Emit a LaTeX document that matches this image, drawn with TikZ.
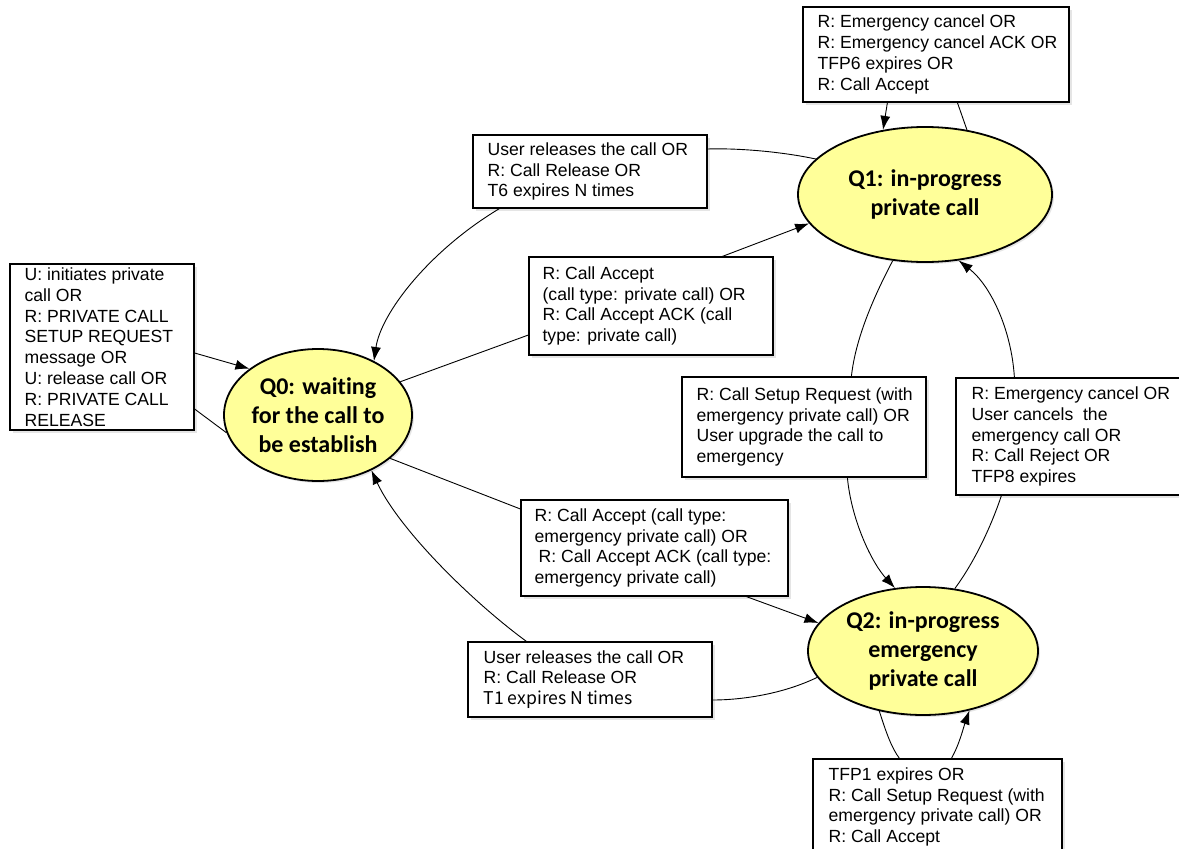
\documentclass[tikz,border=0pt]{standalone}
\usepackage{fontspec}
\setmainfont{Liberation Sans}
\newfontfamily\calib[Ligatures=NoCommon]{Carlito}
\newfontfamily\krfont{Noto Sans CJK KR}
\usetikzlibrary{shapes.geometric,arrows.meta,shadows}
\definecolor{stateyellow}{RGB}{255,255,153}
\tikzset{
  state/.style={ellipse, draw, line width=1.8pt, fill=stateyellow, inner sep=0pt, align=center,
    font=\calib\bfseries\fontsize{24}{29}\selectfont,
    drop shadow={shadow xshift=2pt, shadow yshift=-2pt, fill=black!20}},
  lbox/.style={draw, line width=1.2pt, fill=white, inner sep=0pt,
    drop shadow={shadow xshift=2.5pt, shadow yshift=-2.5pt, fill=black!20}},
  ltext/.style={anchor=west, inner sep=0pt, align=left, font=\fontsize{17.6}{20.8}\selectfont},
  conn/.style={line width=0.9pt},
  arr/.style={conn, -{Latex[length=14pt,width=10pt]}},
}
\begin{document}
\begin{tikzpicture}[x=1pt,y=-1pt]
\useasboundingbox (0,0) rectangle (1179,849);
\clip (0,0) rectangle (1179,849);
\fill[white] (0,0) rectangle (1179,849);

% states
\node[state, minimum width=188pt, minimum height=132pt] (q0) at (318,415) {Q0: waiting\\for the call to\\be establish};
\node[state, minimum width=254pt, minimum height=135pt] (q1) at (925,194.5) {Q1: in-progress\\private call};
\node[state, minimum width=230pt, minimum height=128pt] (q2) at (923,651) {Q2: in-progress\\emergency\\private call};

% label boxes
\node[lbox, minimum width=266pt, minimum height=95pt] (b1) at (936,54.5) {};
\node[lbox, minimum width=234pt, minimum height=73pt] (b2) at (590,171.5) {};
\node[lbox, minimum width=184pt, minimum height=166pt] (b3) at (102,347) {};
\node[lbox, minimum width=244pt, minimum height=98pt] (b4) at (651,306) {};
\node[lbox, minimum width=244pt, minimum height=100pt] (b5) at (804,427) {};
\node[lbox, minimum width=234pt, minimum height=117pt] (b6) at (1073,436.5) {};
\node[lbox, minimum width=267pt, minimum height=96pt] (b7) at (654.5,548) {};
\node[lbox, minimum width=244pt, minimum height=75pt] (b8) at (590,679.5) {};
\node[lbox, minimum width=249pt, minimum height=96pt] (b9) at (937.5,807) {};

\node[ltext] (t1) at ([xshift=15pt]b1.west) {R: Emergency cancel OR\\R: Emergency cancel ACK OR\\TFP6 expires OR\\R: Call Accept};
\node[ltext] (t2) at ([xshift=15pt]b2.west) {User releases the call OR\\R: Call Release OR\\T6 expires N times};
\node[ltext] (t3) at ([xshift=15pt]b3.west) {U: initiates private\\call OR\\R: PRIVATE CALL\\SETUP REQUEST\\message OR\\U: release call OR\\R: PRIVATE CALL\\RELEASE};
\node[ltext] (t4) at ([xshift=14pt]b4.west) {R: Call Accept\\(call type: private call) OR\\R: Call Accept ACK (call\\type: private call)};
\node[ltext] (t5) at ([xshift=15pt]b5.west) {R: Call Setup Request (with\\emergency private call) OR\\User upgrade the call to\\emergency};
\node[ltext] (t6) at ([xshift=16pt]b6.west) {R: Emergency cancel OR\\User cancels\ \ the\\emergency call OR\\R: Call Reject OR\\TFP8 expires};
\node[ltext] (t7) at ([xshift=14pt]b7.west) {R: Call Accept (call type:\\emergency private call) OR\\\hspace*{4pt}R: Call Accept ACK (call type:\\emergency private call)};
\node[ltext] (t8) at ([xshift=16pt]b8.west) {User releases the call OR\\R: Call Release OR\\{\krfont T1 expires N times}};
\node[ltext] (t9) at ([xshift=16pt]b9.west) {TFP1 expires OR\\R: Call Setup Request (with\\emergency private call) OR\\R: Call Accept};

% Q0 self loop via b3
\draw[arr] ([yshift=-6pt]b3.east) -- (q0.146);
\draw[conn] (q0.191) -- ([yshift=-62pt]b3.east);

% Q1 -> Q0 via b2
\draw[conn] (q1.162) .. controls +(-33,-7) and +(33,-1) .. ([yshift=22.5pt]b2.east);
\draw[arr] ([xshift=27pt]b2.south west) .. controls +(-70,42) and +(7,-48) .. (q0.44);

% Q0 -> Q1 via b4
\draw[conn] (q0.22) -- ([yshift=-29pt]b4.west);
\draw[arr] ([xshift=194pt]b4.north west) -- (q1.194);

% Q0 -> Q2 via b7
\draw[conn] (q0.329) -- ([yshift=39pt]b7.west);
\draw[arr] ([xshift=226pt]b7.south west) -- (q2.165);

% Q2 -> Q0 via b8
\draw[conn] (q2.194) .. controls +(-35,17) and +(28,0) .. ([yshift=-20.5pt]b8.east);
\draw[arr] ([xshift=59pt]b8.north west) .. controls +(-57,-42) and +(27,58) .. (q0.314);

% Q1 -> Q2 via b5
\draw[conn] (q1.244) .. controls +(-20,38) and +(4,-37) .. ([xshift=170pt]b5.north west);
\draw[arr] ([xshift=166pt]b5.south west) .. controls +(4,43) and +(-23,-25) .. (q2.114);

% Q2 -> Q1 via b6
\draw[conn] (q2.63) .. controls +(20,-27) and +(-10,30) .. ([xshift=46pt]b6.south west);
\draw[arr] ([xshift=59pt]b6.north west) .. controls +(-3,-48) and +(32,25) .. (q1.297);

% Q1 self loop via b1
\draw[arr] ([xshift=85pt]b1.south west) -- (q1.123);
\draw[conn] (q1.57) -- ([xshift=155pt]b1.south west);

% Q2 self loop via b9
\draw[conn] (q2.234) .. controls +(7,22) and +(-8,-11) .. ([xshift=87pt]b9.north west);
\draw[arr] ([xshift=139pt]b9.north west) .. controls +(8,-14) and +(-6,17) .. (q2.308);
\end{tikzpicture}
\end{document}
